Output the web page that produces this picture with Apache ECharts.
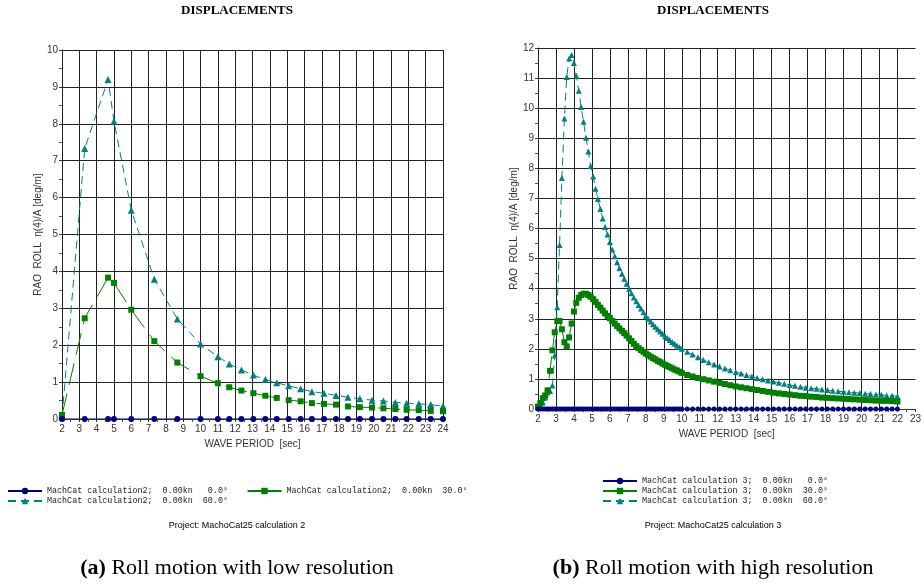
<!DOCTYPE html>
<html>
<head>
<meta charset="utf-8">
<script src="https://cdn.jsdelivr.net/npm/echarts@6/dist/echarts.min.js"></script>
<style>
html, body { margin: 0; padding: 0; background: #fff; }
#chart { width: 924px; height: 584px; }
</style>
</head>
<body>
<div id="chart"></div>
<script>
// (a) low resolution run
var lowPeriod = [2, 3.31, 4.66, 5.0, 6.0, 7.33, 8.66, 10, 11.0, 11.66, 12.36, 13.05, 13.74, 14.4,
    15.09, 15.78, 16.43, 17.13, 17.82, 18.51, 19.2, 19.9, 20.56, 21.25, 21.9, 22.6, 23.29, 24];
var lowRoll0 = [0, 0, 0, 0, 0, 0, 0, 0, 0, 0, 0, 0, 0, 0,
    0, 0, 0, 0, 0, 0, 0, 0, 0, 0, 0, 0, 0, 0];
var lowRoll30 = [0.11, 2.73, 3.83, 3.69, 2.96, 2.11, 1.53, 1.16, 0.97, 0.86, 0.77, 0.70, 0.63, 0.57,
    0.51, 0.48, 0.43, 0.41, 0.39, 0.34, 0.32, 0.31, 0.29, 0.27, 0.25, 0.24, 0.22, 0.21];
var lowRoll60 = [0.05, 7.33, 9.2, 8.07, 5.66, 3.79, 2.71, 2.03, 1.69, 1.49, 1.33, 1.19, 1.07, 0.98,
    0.90, 0.82, 0.74, 0.70, 0.64, 0.59, 0.55, 0.51, 0.49, 0.45, 0.43, 0.41, 0.39, 0.35];

// (b) high resolution run
var highPeriod = [
    2.00, 2.13, 2.27, 2.40, 2.53, 2.67, 2.80, 2.93, 3.07, 3.20,
    3.33, 3.47, 3.60, 3.73, 3.87, 4.00, 4.13, 4.27, 4.40, 4.53,
    4.67, 4.80, 4.93, 5.07, 5.20, 5.33, 5.47, 5.60, 5.73, 5.87,
    6.00, 6.13, 6.27, 6.40, 6.53, 6.67, 6.80, 6.93, 7.07, 7.20,
    7.33, 7.47, 7.60, 7.73, 7.87, 8.00, 8.13, 8.27, 8.40, 8.53,
    8.67, 8.80, 8.93, 9.07, 9.20, 9.33, 9.47, 9.60, 9.73, 9.87,
    10.00,
    10.3, 10.6, 10.9, 11.2, 11.5, 11.8, 12.1, 12.4, 12.7, 13.0,
    13.3, 13.6, 13.9, 14.2, 14.5, 14.8, 15.1, 15.4, 15.7, 16.0,
    16.3, 16.6, 16.9, 17.2, 17.5, 17.8, 18.1, 18.4, 18.7, 19.0,
    19.3, 19.6, 19.9, 20.2, 20.5, 20.8, 21.1, 21.4, 21.7, 22.0
];
var highRoll0 = [
    0, 0, 0, 0, 0, 0, 0, 0, 0, 0,
    0, 0, 0, 0, 0, 0, 0, 0, 0, 0,
    0, 0, 0, 0, 0, 0, 0, 0, 0, 0,
    0, 0, 0, 0, 0, 0, 0, 0, 0, 0,
    0, 0, 0, 0, 0, 0, 0, 0, 0, 0,
    0, 0, 0, 0, 0, 0, 0, 0, 0, 0,
    0,
    0, 0, 0, 0, 0, 0, 0, 0, 0, 0,
    0, 0, 0, 0, 0, 0, 0, 0, 0, 0,
    0, 0, 0, 0, 0, 0, 0, 0, 0, 0,
    0, 0, 0, 0, 0, 0, 0, 0, 0, 0
];
var highRoll30 = [
    0.08, 0.20, 0.36, 0.45, 0.62, 1.27, 1.95, 2.55, 2.92, 2.93,
    2.65, 2.22, 2.08, 2.38, 2.84, 3.24, 3.53, 3.70, 3.79, 3.83,
    3.83, 3.79, 3.73, 3.65, 3.56, 3.46, 3.37, 3.27, 3.18, 3.09,
    3.02, 2.93, 2.84, 2.76, 2.68, 2.60, 2.52, 2.44, 2.35, 2.26,
    2.17, 2.09, 2.02, 1.96, 1.90, 1.84, 1.79, 1.74, 1.69, 1.65,
    1.60, 1.56, 1.51, 1.47, 1.43, 1.39, 1.35, 1.31, 1.28, 1.24,
    1.20,
    1.13, 1.08, 1.03, 0.99, 0.95, 0.91, 0.87, 0.83, 0.79, 0.75,
    0.72, 0.69, 0.66, 0.63, 0.60, 0.57, 0.54, 0.52, 0.50, 0.48,
    0.46, 0.44, 0.43, 0.41, 0.40, 0.38, 0.37, 0.36, 0.35, 0.34,
    0.33, 0.32, 0.31, 0.30, 0.29, 0.28, 0.27, 0.27, 0.26, 0.25
];
var highRoll60 = [
    0.05, 0.12, 0.22, 0.38, 0.55, 0.60, 0.78, 1.78, 3.38, 5.45,
    7.68, 9.66, 11.04, 11.65, 11.77, 11.50, 11.08, 10.58, 10.04, 9.55,
    9.02, 8.56, 8.08, 7.73, 7.32, 6.98, 6.65, 6.33, 6.05, 5.80,
    5.55, 5.30, 5.08, 4.88, 4.68, 4.50, 4.33, 4.16, 4.00, 3.85,
    3.71, 3.58, 3.46, 3.34, 3.22, 3.10, 3.00, 2.91, 2.82, 2.73,
    2.65, 2.58, 2.50, 2.42, 2.36, 2.29, 2.23, 2.17, 2.11, 2.05,
    2.00,
    1.90, 1.81, 1.72, 1.63, 1.55, 1.48, 1.41, 1.35, 1.29, 1.23,
    1.18, 1.13, 1.08, 1.03, 0.99, 0.95, 0.91, 0.87, 0.84, 0.80,
    0.77, 0.74, 0.71, 0.69, 0.67, 0.65, 0.63, 0.61, 0.59, 0.57,
    0.56, 0.54, 0.53, 0.51, 0.50, 0.48, 0.47, 0.45, 0.44, 0.42
];

var lowNames = ['MachCat calculation2;  0.00kn   0.0\u00b0',
    'MachCat calculation2;  0.00kn  30.0\u00b0',
    'MachCat calculation2;  0.00kn  60.0\u00b0'];
var highNames = ['MachCat calculation 3;  0.00kn   0.0\u00b0',
    'MachCat calculation 3;  0.00kn  30.0\u00b0',
    'MachCat calculation 3;  0.00kn  60.0\u00b0'];

var NAVY = '#000080', GREEN = '#008000', TEAL = '#008080';
var GRID_LINE = '#222';

function pairs(xs, ys) {
    return xs.map(function (x, i) { return [x, ys[i]]; });
}

function line(name, idx, xs, ys, color, symbol, size, dash) {
    return {
        name: name, type: 'line', xAxisIndex: idx, yAxisIndex: idx,
        data: pairs(xs, ys),
        symbol: symbol, symbolSize: size, showAllSymbol: true,
        lineStyle: { color: color, width: 1, type: dash },
        itemStyle: { color: color },
        emphasis: { disabled: true },
        silent: true
    };
}

function xAxis(idx, max, showMax) {
    return {
        type: 'value', gridIndex: idx, min: 2, max: max, interval: 1,
        name: 'WAVE PERIOD  [sec]', nameLocation: 'middle', nameGap: 14,
        nameTextStyle: { fontFamily: 'Liberation Sans', fontSize: 10, color: '#333' },
        axisLine: { lineStyle: { color: '#333', width: 1 } },
        axisTick: { show: true, length: 3, lineStyle: { color: '#333' } },
        minorTick: { show: true, splitNumber: 2, length: 3, lineStyle: { color: '#555' } },
        axisLabel: { fontFamily: 'Liberation Sans', fontSize: 10, color: '#333', margin: 5 },
        splitLine: { show: true, showMaxLine: showMax, lineStyle: { color: GRID_LINE, width: 1 } }
    };
}

function yAxis(idx, max) {
    return {
        type: 'value', gridIndex: idx, min: 0, max: max, interval: 1,
        name: 'RAO  ROLL  \u03b7(4)/A [deg/m]', nameLocation: 'middle', nameGap: 19,
        nameTextStyle: { fontFamily: 'Liberation Sans', fontSize: 10, color: '#333' },
        axisLine: { show: true, lineStyle: { color: '#222', width: 1 } },
        axisTick: { show: true, length: 3, lineStyle: { color: '#333' } },
        minorTick: { show: true, splitNumber: 2, length: 3, lineStyle: { color: '#555' } },
        axisLabel: { fontFamily: 'Liberation Sans', fontSize: 10, color: '#333', margin: 4 },
        splitLine: { show: true, lineStyle: { color: GRID_LINE, width: 1 } }
    };
}

var legendText = { fontFamily: 'Liberation Mono', fontSize: 8.4, color: '#222', lineHeight: 10 };

function legend(names, left, top, orient, gap) {
    return {
        data: names.map(function (n, i) {
            return n.indexOf('30.0') >= 0 ? { name: n, lineStyle: { type: 'solid' } } : { name: n };
        }),
        left: left, top: top, orient: orient, itemGap: gap,
        itemWidth: 34, itemHeight: 8, selectedMode: false,
        textStyle: legendText, padding: 0
    };
}

function text(x, y, str, font, rich) {
    var style = { text: str, x: x, y: y, font: font, fill: '#000', align: 'center', verticalAlign: 'middle' };
    if (rich) style.rich = rich;
    return { type: 'text', style: style, silent: true };
}

var captionRich = {
    b: { fontFamily: 'Liberation Serif', fontSize: 22, fontWeight: 'bold', fill: '#000' },
    n: { fontFamily: 'Liberation Serif', fontSize: 22, fill: '#000' }
};

var chart = echarts.init(document.getElementById('chart'));
chart.setOption({
    animation: false,
    backgroundColor: '#fff',
    grid: [
        { left: 62, top: 50, width: 381, height: 369 },
        { left: 538, top: 48, width: 381, height: 361 }
    ],
    xAxis: [xAxis(0, 24, true), xAxis(1, 23, false)],
    yAxis: [yAxis(0, 10), yAxis(1, 12)],
    legend: [
        legend([lowNames[0], lowNames[1]], 7, 486, 'horizontal', 18.6),
        legend([lowNames[2]], 7, 496, 'horizontal', 0),
        legend(highNames, 602, 476, 'vertical', 0)
    ],
    graphic: [
        text(237, 11, 'DISPLACEMENTS', 'bold 13px "Liberation Serif"'),
        text(713, 11, 'DISPLACEMENTS', 'bold 13px "Liberation Serif"'),
        text(237, 526, 'Project: MachoCat25 calculation 2', '9px "Liberation Sans"'),
        text(713, 526, 'Project: MachoCat25 calculation 3', '9px "Liberation Sans"'),
        text(237, 568, '{b|(a)}{n| Roll motion with low resolution}', '22px "Liberation Serif"', captionRich),
        text(713, 568, '{b|(b)}{n| Roll motion with high resolution}', '22px "Liberation Serif"', captionRich)
    ],
    series: [
        line(lowNames[2], 0, lowPeriod, lowRoll60, TEAL, 'triangle', 7, [8, 5]),
        line(lowNames[1], 0, lowPeriod, lowRoll30, GREEN, 'rect', 6, [22, 9]),
        line(lowNames[0], 0, lowPeriod, lowRoll0, NAVY, 'circle', 6, 'solid'),
        line(highNames[2], 1, highPeriod, highRoll60, TEAL, 'triangle', 6, [8, 5]),
        line(highNames[1], 1, highPeriod, highRoll30, GREEN, 'rect', 6, [22, 9]),
        line(highNames[0], 1, highPeriod, highRoll0, NAVY, 'circle', 5, 'solid')
    ]
});

window.addEventListener('resize', function () { chart.resize(); });
</script>
</body>
</html>
